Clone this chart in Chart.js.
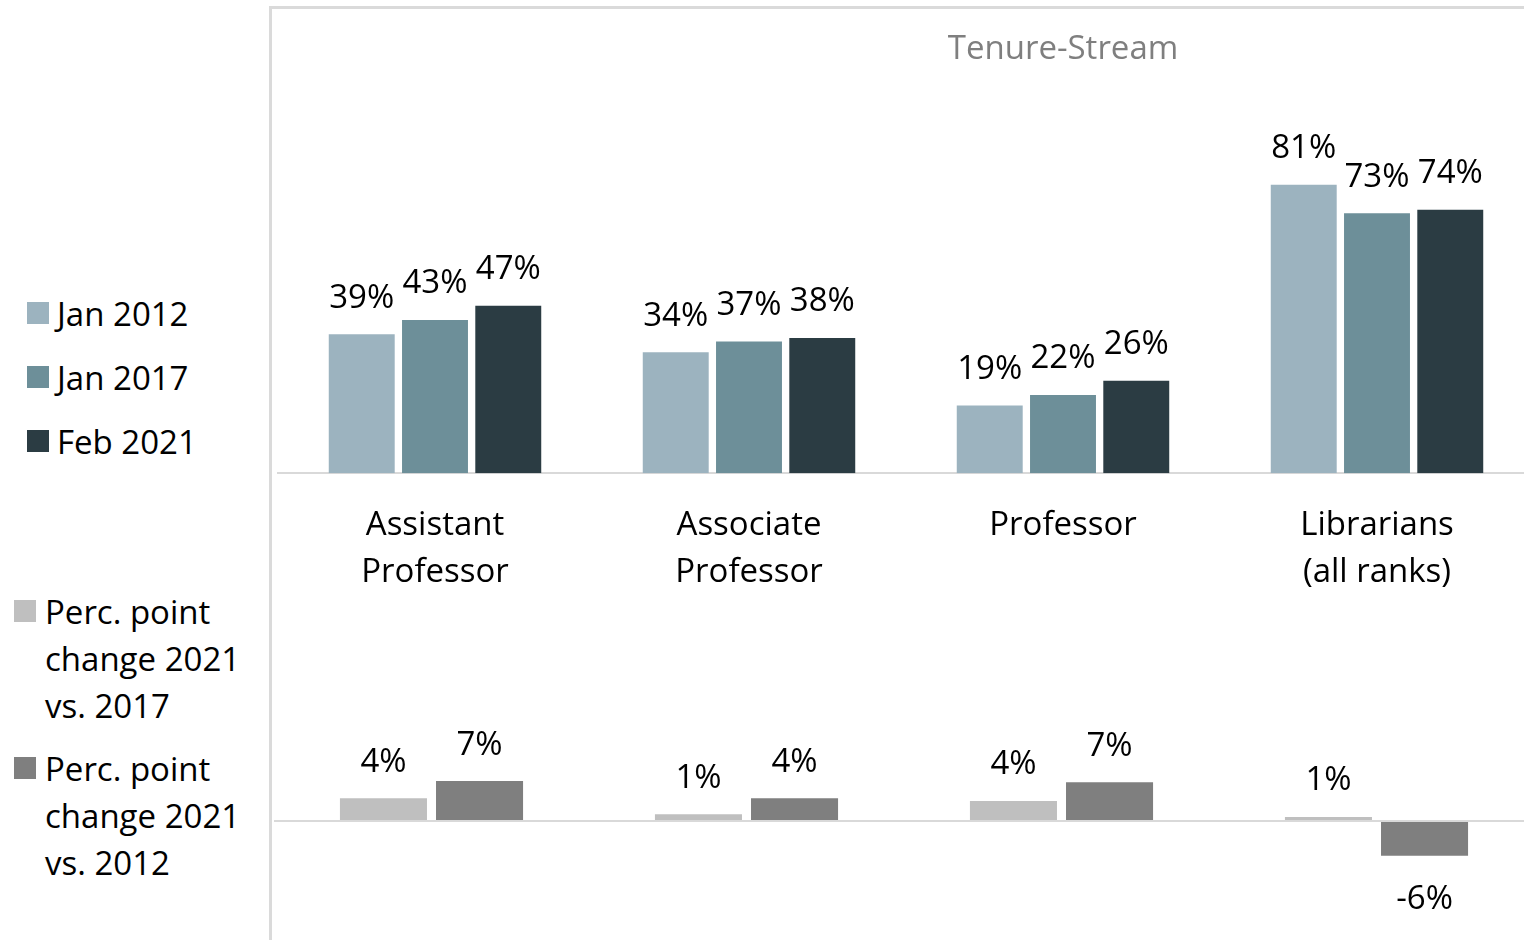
<!DOCTYPE html>
<html>
<head>
<meta charset="utf-8">
<script src="https://cdn.jsdelivr.net/npm/chart.js@4"></script>
<style>
  body { margin: 0; width: 1524px; height: 940px; overflow: hidden; background: #fff; font-family: "Open Sans", sans-serif; }
  #frame { position: absolute; left: 269px; top: 6px; width: 1300px; height: 1000px; border-left: 3px solid #dadada; border-top: 3px solid #dadada; }
  .chartBox { position: absolute; left: 270px; width: 1270px; }
  .legend { position: absolute; font-size: 33px; line-height: 47px; color: #000; }
  .legend .item { display: flex; align-items: flex-start; }
  .legend .box { width: 22px; height: 22px; flex: none; margin-top: 12px; }
  #legendTop { left: 27px; top: 290px; }
  #legendTop .item { margin-bottom: 17px; }
  #legendTop .box { margin-right: 8px; }
  #legendBottom { left: 14px; top: 588px; }
  #legendBottom .item { margin-bottom: 16px; }
  #legendBottom .box { margin-right: 9px; }
  #legendBottom .txt { width: 215px; }
</style>
</head>
<body>
<div id="frame"></div>
<div class="chartBox" style="top:600px;height:340px"><canvas id="change"></canvas></div>
<div class="chartBox" style="top:0;height:622px"><canvas id="levels"></canvas></div>
<div class="legend" id="legendTop"></div>
<div class="legend" id="legendBottom"></div>
<script>
const categories = [['Assistant', 'Professor'], ['Associate', 'Professor'], ['Professor'], ['Librarians', '(all ranks)']]
const jan2012 = [39, 34, 19, 81]
const jan2017 = [43, 37, 22, 73]
const feb2021 = [47, 38, 26, 74]
const change2017 = [4.0, 1.2, 3.5, 0.7]
const change2012 = [7.0, 4.0, 6.8, -6.1]

const FONT = '"Open Sans", sans-serif'

// value labels above (or below) each bar
const barLabels = {
  id: 'barLabels',
  afterDatasetsDraw(chart, args, opts) {
    const ctx = chart.ctx
    ctx.save()
    ctx.font = '33px ' + FONT
    ctx.fillStyle = '#000'
    ctx.textAlign = 'center'
    ctx.textBaseline = 'middle'
    chart.data.datasets.forEach((ds, i) => {
      chart.getDatasetMeta(i).data.forEach((bar, j) => {
        const v = ds.data[j]
        const y = v >= 0 ? bar.y - opts.above : bar.y + opts.below
        ctx.fillText(Math.round(v) + '%', bar.x, y)
      })
    })
    ctx.restore()
  }
}

// panel heading, placed over part of the plot
const panelTitle = {
  id: 'panelTitle',
  afterDraw(chart, args, opts) {
    if (!opts.text) return
    const a = chart.chartArea
    const ctx = chart.ctx
    ctx.save()
    ctx.font = '33px ' + FONT
    ctx.fillStyle = '#7f7f7f'
    ctx.textAlign = 'center'
    ctx.textBaseline = 'middle'
    ctx.fillText(opts.text, a.left + a.width * opts.at, opts.y)
    ctx.restore()
  }
}

function htmlLegend(chart, el) {
  chart.data.datasets.forEach(ds => {
    const item = document.createElement('div')
    item.className = 'item'
    const box = document.createElement('span')
    box.className = 'box'
    box.style.background = ds.backgroundColor
    const txt = document.createElement('span')
    txt.className = 'txt'
    txt.textContent = ds.label
    item.appendChild(box)
    item.appendChild(txt)
    el.appendChild(item)
  })
}

const levelsChart = new Chart(document.getElementById('levels'), {
  type: 'bar',
  data: {
    labels: categories,
    datasets: [
      { label: 'Jan 2012', data: jan2012, backgroundColor: '#9cb3bf' },
      { label: 'Jan 2017', data: jan2017, backgroundColor: '#6d8f99' },
      { label: 'Feb 2021', data: feb2021, backgroundColor: '#2b3c43' }
    ]
  },
  options: {
    responsive: true,
    maintainAspectRatio: false,
    animation: false,
    categoryPercentage: 0.70,
    barPercentage: 0.90,
    layout: { padding: { left: 8, right: 6, top: 117, bottom: 5 } },
    plugins: {
      legend: { display: false },
      tooltip: { enabled: false },
      barLabels: { above: 36, below: 41 },
      panelTitle: { text: 'Tenure-Stream', at: 0.625, y: 50 }
    },
    scales: {
      x: {
        grid: { display: false },
        border: { display: true, color: '#d9d9d9', width: 2 },
        ticks: {
          color: '#000',
          padding: 21,
          maxRotation: 0,
          font: { family: FONT, size: 33, lineHeight: 1.42 }
        }
      },
      y: { display: false, min: 0, max: 100 }
    }
  },
  plugins: [barLabels, panelTitle]
})

const changeChart = new Chart(document.getElementById('change'), {
  type: 'bar',
  data: {
    labels: categories,
    datasets: [
      { label: 'Perc. point change 2021 vs. 2017', data: change2017, backgroundColor: '#bfbfbf' },
      { label: 'Perc. point change 2021 vs. 2012', data: change2012, backgroundColor: '#7f7f7f' }
    ]
  },
  options: {
    responsive: true,
    maintainAspectRatio: false,
    animation: false,
    categoryPercentage: 0.61,
    barPercentage: 0.906,
    layout: { padding: { left: 4, right: 6, top: 107, bottom: 62 } },
    plugins: {
      legend: { display: false },
      tooltip: { enabled: false },
      barLabels: { above: 36, below: 44 },
      panelTitle: { text: '' }
    },
    scales: {
      x: { display: false },
      y: {
        min: -10,
        max: 20,
        ticks: { display: false, stepSize: 5 },
        border: { display: false },
        grid: {
          drawTicks: false,
          lineWidth: 2,
          color: c => c.tick && c.tick.value === 0 ? '#d9d9d9' : 'rgba(0,0,0,0)'
        }
      }
    }
  },
  plugins: [barLabels, panelTitle]
})

htmlLegend(levelsChart, document.getElementById('legendTop'))
htmlLegend(changeChart, document.getElementById('legendBottom'))
</script>
</body>
</html>
